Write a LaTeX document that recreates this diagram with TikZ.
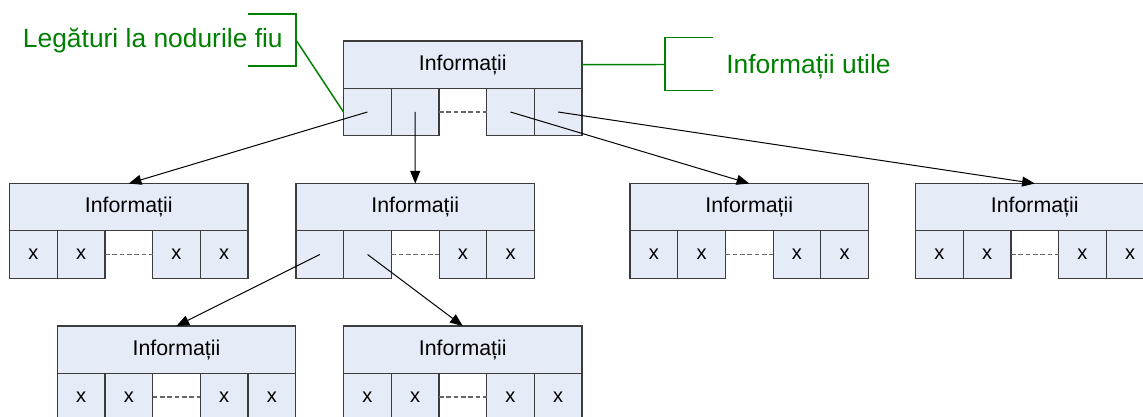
\documentclass[tikz,border=0pt]{standalone}
\usepackage{fontspec}
\setmainfont{Liberation Sans}
\usetikzlibrary{arrows.meta}
\definecolor{cellfill}{RGB}{230,236,247}
\definecolor{edgegray}{RGB}{60,60,60}
\definecolor{notegreen}{RGB}{0,128,0}
\tikzset{
  infobox/.style={draw=edgegray, fill=cellfill, line width=0.9pt,
    minimum width=178.9pt, minimum height=35.5pt, inner sep=0pt, outer sep=0pt,
    font=\fontsize{16}{19}\selectfont},
  cellbox/.style={draw=edgegray, fill=cellfill, line width=0.9pt,
    minimum width=35.78pt, minimum height=35.5pt, inner sep=0pt, outer sep=0pt,
    font=\fontsize{15}{18}\selectfont},
  gapline/.style={draw=black!60, line width=0.8pt, dash pattern=on 3.5pt off 2pt},
  link/.style={-{Triangle[length=9.5pt,width=7.5pt]}, line width=0.75pt, black},
  noteline/.style={draw=notegreen, line width=1.1pt},
  notetext/.style={text=notegreen, inner sep=0pt, font=\fontsize{19.8}{23}\selectfont}
}
% record: an information field above a row of link cells
% #1 name, #2 left, #3 top, #4 text of the first two cells, #5 text of the last two cells
\newcommand\recordnode[5]{%
  \node[infobox, anchor=north west] (#1) at (#2,#3) {Informații};
  \node[cellbox, anchor=north west] (#1c1) at (#1.south west) {#4};
  \node[cellbox, anchor=north west] (#1c2) at (#1c1.north east) {#4};
  \node[cellbox, anchor=north east] (#1c5) at (#1.south east) {#5};
  \node[cellbox, anchor=north east] (#1c4) at (#1c5.north west) {#5};
  \draw[gapline] (#1c2.east) -- (#1c4.west);
}
\begin{document}
\begin{tikzpicture}[x=0.75pt, y=-0.75pt]
  \useasboundingbox (0,0) rectangle (1143,417);
  \clip (0,0) rectangle (1143,417);

  % tree of records
  \recordnode{T}{343.5}{41}{}{}
  \recordnode{A}{9.5}{183.5}{x}{x}
  \recordnode{B}{296}{183.5}{}{x}
  \recordnode{C}{630}{183.5}{x}{x}
  \recordnode{D}{915.5}{183.5}{x}{x}
  \recordnode{E}{57.2}{326}{x}{x}
  \recordnode{F}{343.5}{326}{x}{x}

  % child links
  \draw[link] (Tc1.center) -- (A.north);
  \draw[link] (Tc2.center) -- (B.north);
  \draw[link] (Tc4.center) -- (C.north);
  \draw[link] (Tc5.center) -- (D.north);
  \draw[link] (Bc1.center) -- (E.north);
  \draw[link] (Bc2.center) -- (F.north);

  % annotation: child links
  \node[notetext, anchor=base east] (lbl) at (283,48) {Legături la nodurile fiu};
  \coordinate (lt) at (248,14);
  \coordinate (lb) at (248,66);
  \coordinate (lm) at (296,40);
  \draw[noteline] (lt) -- (296,14) -- (296,66) -- (lb);
  \draw[noteline] (lm) -- (Tc1.west);

  % annotation: payload
  \node[notetext, anchor=base west] (inf) at (726,74) {Informații utile};
  \coordinate (rm) at (665,64.5);
  \coordinate (rt) at (713,37.3);
  \coordinate (rb) at (713,90.3);
  \draw[noteline] (T.east) -- (rm);
  \draw[noteline] (rt) -- (665,37.3) -- (665,90.3) -- (rb);
\end{tikzpicture}
\end{document}
